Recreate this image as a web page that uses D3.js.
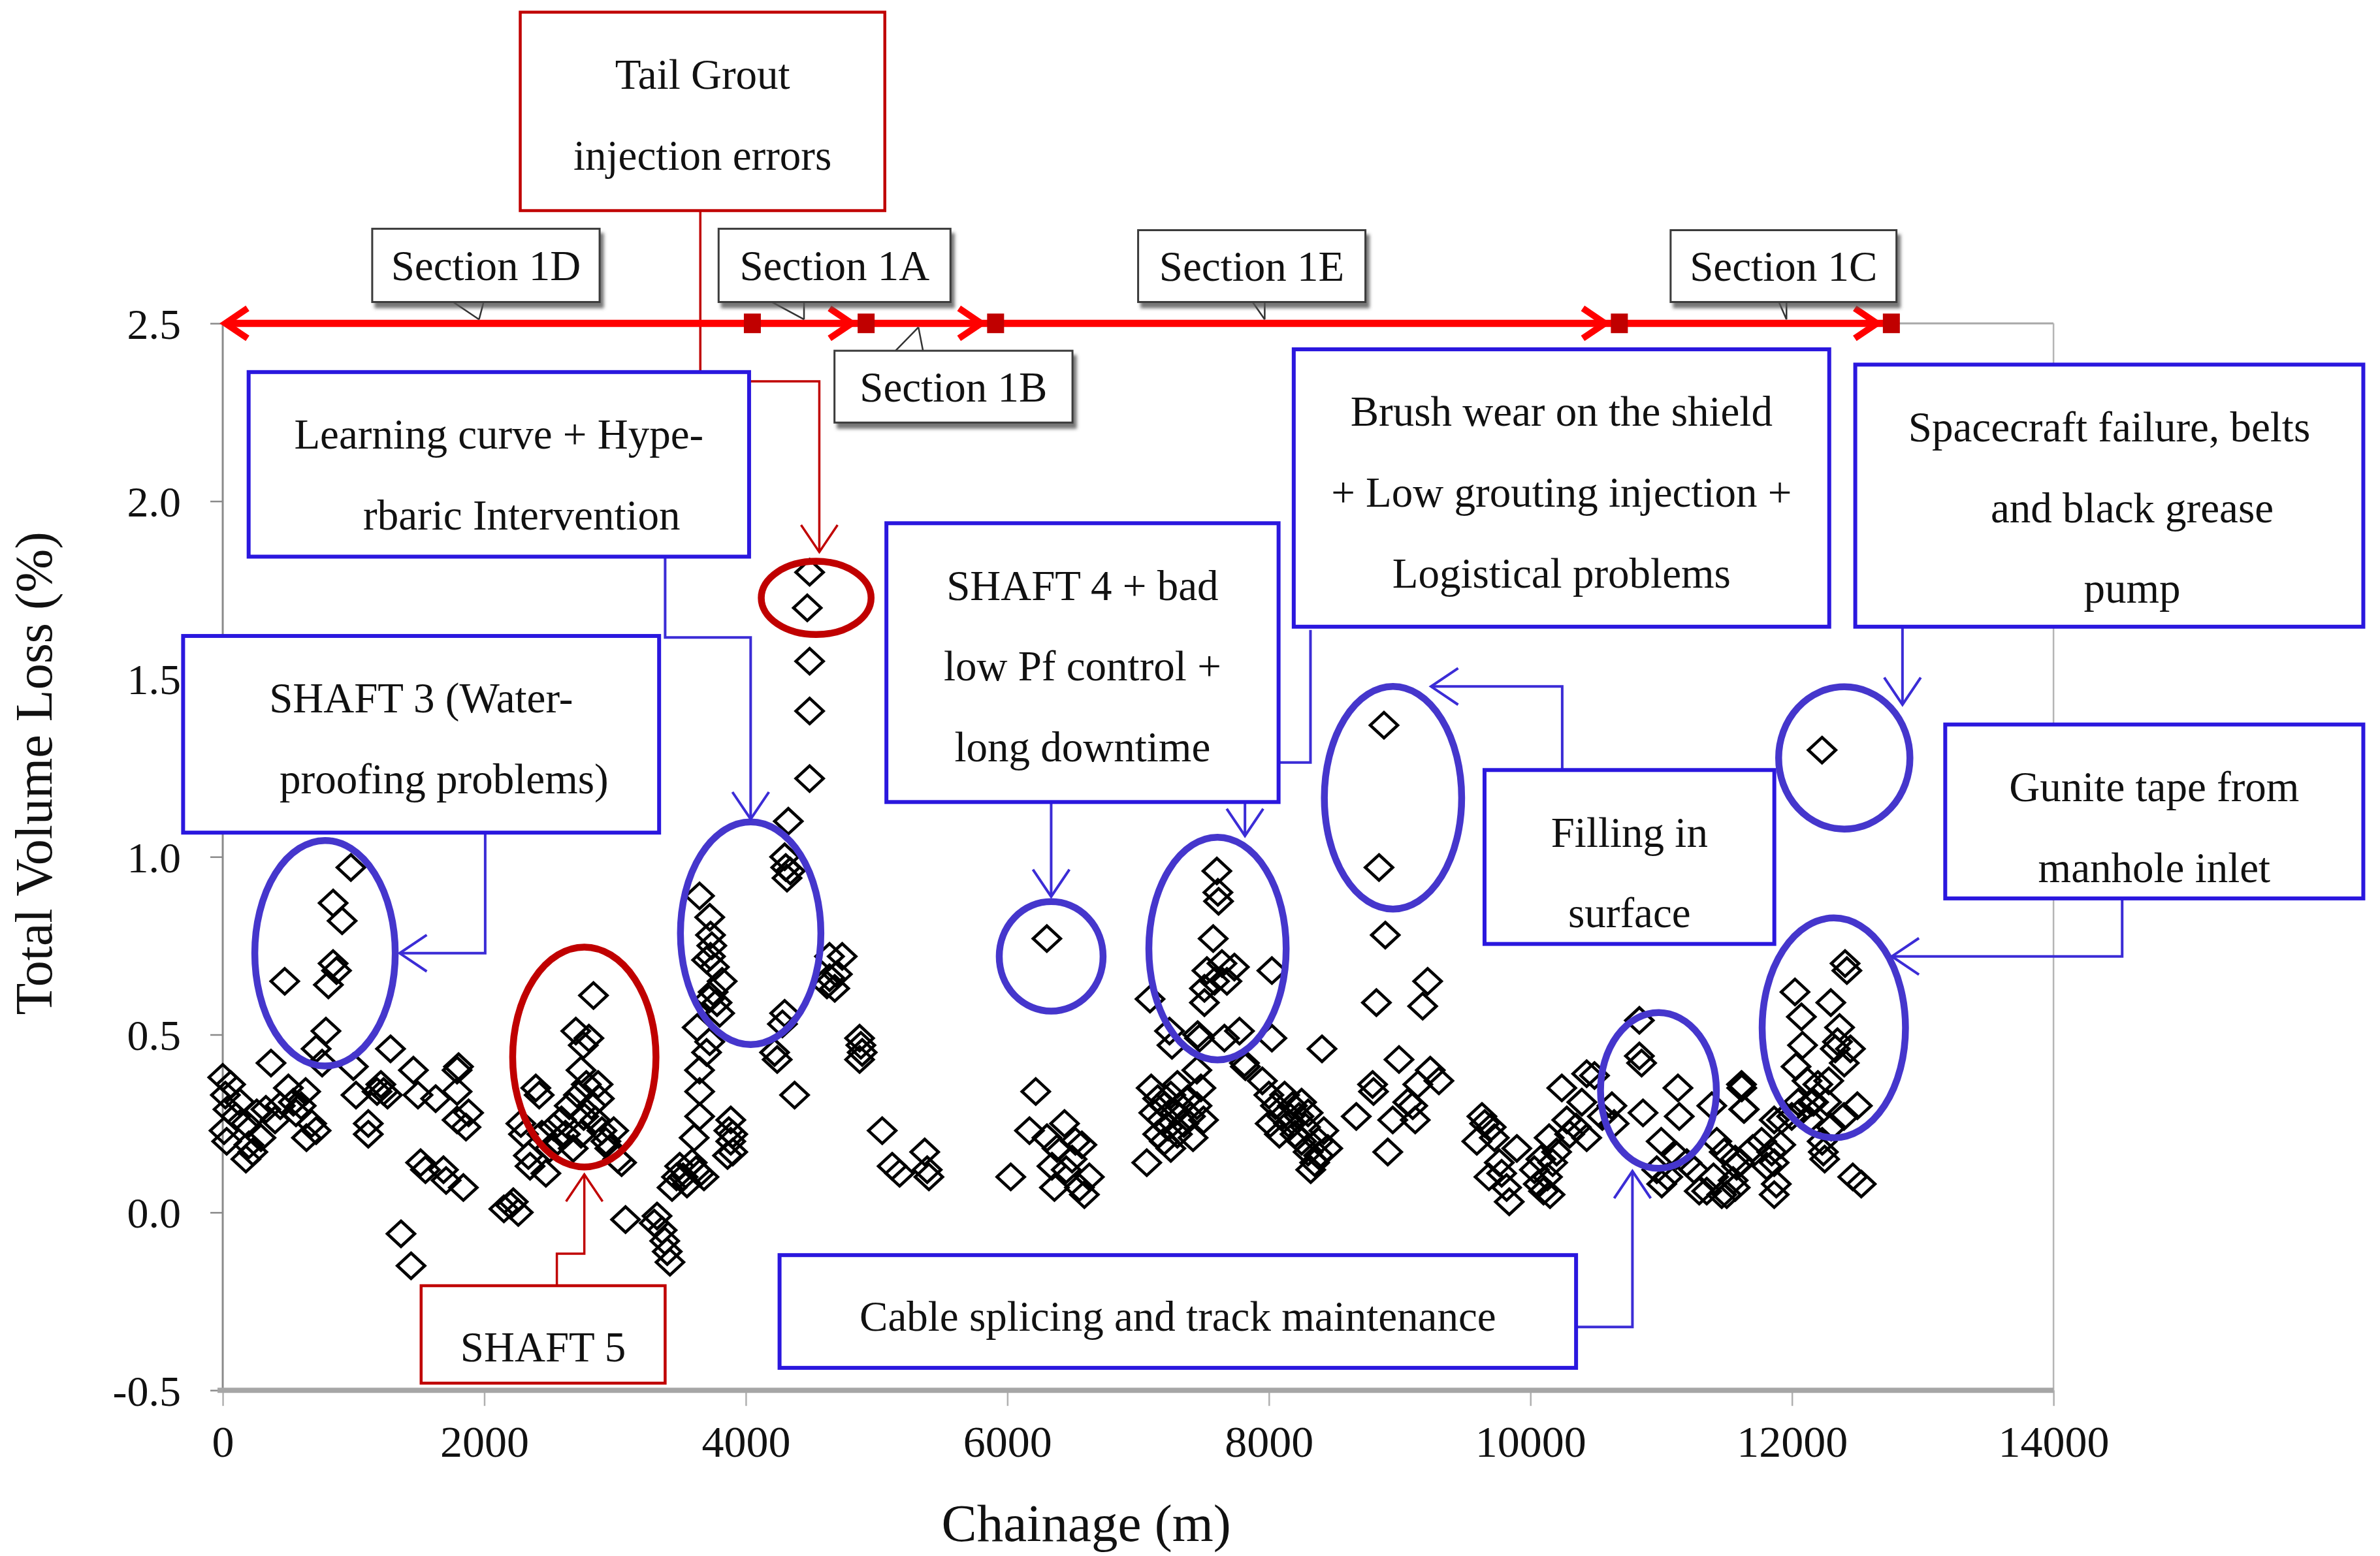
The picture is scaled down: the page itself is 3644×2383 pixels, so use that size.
<!DOCTYPE html>
<html><head><meta charset="utf-8">
<script src="https://cdn.jsdelivr.net/npm/d3@7"></script>
<style>html,body{margin:0;padding:0;background:#fff;} svg{display:block;}</style>
</head><body>
<svg id="chart" width="3644" height="2383"></svg>
<script>
// ---------------- DATA ----------------
// [chainage (m), total volume loss (%)]
const readings = [
[0,0.38],[20,0.33],[40,0.29],[10,0.23],[60,0.36],[30,0.20],[100,0.27],[130,0.31],[177,0.25],[177,0.15],[200,0.19],[230,0.17],[260,0.28],[292,0.21],[330,0.29],[369,0.42],[400,0.26],[440,0.30],[474,0.65],[502,0.35],[540,0.31],[560,0.28],[600,0.30],[634,0.34],[640,0.21],[680,0.25],[714,0.46],[714,0.23],[760,0.42],[789,0.51],[808,0.64],[844,0.70],[844,0.87],[870,0.68],[913,0.82],[980,0.97],[999,0.41],[1019,0.33],[1113,0.25],[1113,0.22],[1180,0.34],[1209,0.36],[1230,0.34],[1260,0.33],[1283,0.46],[1363,-0.06],[1440,-0.15],[1458,0.40],[1493,0.33],[1513,0.14],[1550,0.12],[1628,0.32],[1688,0.12],[1708,0.09],[1792,0.40],[1792,0.34],[1792,0.26],[1803,0.41],[1840,0.07],[1860,0.24],[1880,0.28],
[2150,0.01],[2200,0.02],[2222,0.03],[2260,0.00],[2280,0.25],[2300,0.22],[2337,0.16],[2350,0.13],[2394,0.35],[2420,0.33],[2440,0.22],[2471,0.11],[2500,0.18],[2530,0.24],[2560,0.20],[2590,0.26],[2620,0.22],[2650,0.30],[2680,0.18],[2700,0.51],[2720,0.33],[2740,0.40],[2757,0.47],[2780,0.36],[2800,0.49],[2835,0.61],[2820,0.30],[2850,0.26],[2870,0.36],[2900,0.23],[2930,0.20],[2960,0.18],[2990,0.23],[3020,0.15],[3050,0.14],[3080,-0.02],[2760,0.27],[2740,0.22],[2880,0.32],
[3300,-0.03],[3321,-0.01],[3360,-0.05],[3399,-0.11],[3420,-0.14],[3380,-0.08],[3436,0.07],[3470,0.10],[3494,0.13],[3520,0.10],[3550,0.08],[3590,0.14],[3620,0.12],[3646,0.11],[3680,0.10],[3605,0.21],[3646,0.40],[3628,0.52],[3647,0.34],[3647,0.27],[3646,0.89],[3724,0.83],[3730,0.78],[3740,0.75],[3730,0.72],[3760,0.69],[3700,0.71],[3750,0.62],[3720,0.60],[3819,0.65],[3780,0.59],[3800,0.56],[3724,0.48],[3700,0.45],[3885,0.26],[3885,0.20],[3870,0.23],[3900,0.17],[3860,0.16],[3900,0.22],
[4297,1.00],[4305,0.97],[4315,0.94],[4325,1.10],[4340,0.96],[4470,1.70],[4488,1.80],[4488,1.55],[4488,1.41],[4488,1.22],[4297,0.56],[4280,0.53],[4220,0.45],[4240,0.43],[4373,0.33],[4620,0.64],[4640,0.72],[4640,0.66],[4680,0.63],[4700,0.67],[4737,0.72],[4870,0.49],[4880,0.47],[4870,0.43],[4890,0.45],[5043,0.23],[5119,0.13],[5176,0.11],[5368,0.17],[5387,0.12],[5400,0.10],
[6026,0.10],[6169,0.23],[6217,0.34],[6302,0.77],[6303,0.21],[6341,0.13],[6360,0.07],[6380,0.18],[6437,0.25],[6450,0.12],[6495,0.15],[6520,0.20],[6551,0.07],[6570,0.19],[6589,0.05],[6627,0.10],
[7066,0.14],[7091,0.60],[7240,0.51],[7259,0.47],[7100,0.35],[7150,0.32],[7200,0.30],[7250,0.33],[7300,0.36],[7120,0.28],[7180,0.26],[7230,0.24],[7280,0.28],[7320,0.30],[7350,0.25],[7150,0.22],[7200,0.20],[7250,0.18],[7300,0.22],[7400,0.27],[7450,0.30],[7500,0.26],[7380,0.32],[7420,0.21],[7480,0.35],[7449,0.40],[7455,0.50],[7469,0.49],[7507,0.63],[7507,0.59],[7526,0.68],[7574,0.77],[7584,0.65],[7602,0.96],[7610,0.90],[7615,0.875],[7641,0.70],[7660,0.49],[7679,0.65],[7736,0.69],[7775,0.51],[7813,0.42],[7820,0.41],[8023,0.68],[8023,0.49],[8406,0.46],
[7950,0.37],[8000,0.33],[8050,0.30],[8100,0.27],[8150,0.25],[8200,0.22],[8250,0.20],[8300,0.17],[8350,0.14],[8320,0.12],[8280,0.24],[8230,0.27],[8180,0.30],[8120,0.33],[8080,0.22],[8380,0.20],[8420,0.23],[8450,0.18],[8380,0.16],[8300,0.28],[8250,0.31],[8010,0.25],
[8668,0.27],[8793,0.36],[8800,0.34],[8822,0.59],[8842,0.97],[8880,1.37],[8890,0.78],[8909,0.17],[8947,0.26],[8995,0.43],[9062,0.31],[9100,0.30],[9119,0.26],[9139,0.36],[9176,0.58],[9214,0.65],[9234,0.40],[9300,0.37],
[9590,0.20],[9629,0.27],[9650,0.25],[9683,0.10],[9700,0.24],[9724,0.21],[9762,0.14],[9780,0.11],[9818,0.07],[9838,0.03],[9896,0.18],[10030,0.12],[10060,0.08],[10080,0.15],[10100,0.06],[10130,0.10],[10150,0.05],[10170,0.14],[10200,0.17],[10143,0.21],[10240,0.35],[10278,0.26],[10300,0.22],[10350,0.24],[10393,0.31],[10430,0.39],[10430,0.21],[10490,0.385],[10550,0.27],[10623,0.30],[10640,0.25],
[10833,0.54],[10833,0.44],[10850,0.42],[10861,0.28],[10966,0.12],[11000,0.20],[11004,0.08],[11050,0.10],[11118,0.16],[11128,0.35],[11138,0.27],[11196,0.14],[11250,0.12],[11291,0.06],[11348,0.06],[11387,0.30],[11400,0.10],[11425,0.20],[11463,0.05],[11482,0.17],[11501,0.05],[11550,0.09],[11577,0.13],[11597,0.14],[11616,0.35],[11635,0.29],[11700,0.18],[11768,0.20],[11807,0.13],[11845,0.17],[11864,0.05],[11921,0.26],[12056,0.28],[12151,0.31],
[11566,0.15],[11566,0.07],[11614,0.36],[11631,0.29],[11864,0.26],[11914,0.19],[11864,0.14],[11880,0.08],[11998,0.27],[12023,0.62],[12031,0.41],[12048,0.31],[12072,0.55],[12081,0.47],[12115,0.37],[12131,0.26],[12165,0.31],[12198,0.36],[12230,1.30],[12231,0.20],[12240,0.17],[12250,0.15],[12265,0.31],[12281,0.37],[12297,0.59],[12300,0.24],[12331,0.46],[12348,0.48],[12364,0.52],[12398,0.27],[12400,0.42],[12406,0.70],[12420,0.68],[12447,0.46],[12465,0.10],[12500,0.30],[12530,0.08]
];

const xTicks = [0, 2000, 4000, 6000, 8000, 10000, 12000, 14000];
const yTicks = [-0.5, 0.0, 0.5, 1.0, 1.5, 2.0, 2.5];
const xTitle = "Chainage (m)";
const yTitle = "Total Volume Loss (%)";

// tunnel section boundaries along the top (chainage, m)
const sectionBounds = [0, 4050, 4920, 5910, 10680, 12760];
const sectionArrowAt = [4920, 5910, 10680, 12760];
const sectionLabels = [
  {text:"Section 1D", x0:1143, x1:2882, yTop:2.766, yBot:2.560, tail:[1762,1995,1960], below:false},
  {text:"Section 1A", x0:3792, x1:5565, yTop:2.766, yBot:2.560, tail:[4200,4445,4445], below:false},
  {text:"Section 1B", x0:4678, x1:6498, yTop:2.423, yBot:2.221, tail:[5145,5355,5320], below:true},
  {text:"Section 1E", x0:7000, x1:8738, yTop:2.762, yBot:2.560, tail:[7875,7968,7968], below:false},
  {text:"Section 1C", x0:11072, x1:12799, yTop:2.762, yBot:2.560, tail:[11900,11958,11958], below:false}
];

// annotation boxes (extent in data units)
const notes = [
  {lines:["Tail Grout","injection errors"], x0:2275, x1:5063, yTop:3.375, yBot:2.817, tone:"red", dx:[0,0]},
  {lines:["Learning curve + Hype-","rbaric Intervention"], x0:198, x1:4025, yTop:2.363, yBot:1.844, tone:"blue", dx:[0,15]},
  {lines:["SHAFT 3 (Water-","proofing problems)"], x0:-303, x1:3337, yTop:1.621, yBot:1.068, tone:"blue", dx:[0,15]},
  {lines:["SHAFT 4 + bad","low Pf control +","long downtime"], x0:5075, x1:8074, yTop:1.938, yBot:1.154, tone:"blue", dx:[0,0,0]},
  {lines:["Brush wear on the shield","+ Low grouting injection +","Logistical problems"], x0:8190, x1:12285, yTop:2.427, yBot:1.647, tone:"blue", dx:[0,0,0]},
  {lines:["Spacecraft failure, belts","and black grease","pump"], x0:12484, x1:16369, yTop:2.384, yBot:1.647, tone:"blue", dx:[0,15,15]},
  {lines:["Filling in","surface"], x0:9649, x1:11865, yTop:1.244, yBot:0.755, tone:"blue", dx:[0,0]},
  {lines:["Gunite tape from","manhole inlet"], x0:13172, x1:16369, yTop:1.372, yBot:0.883, tone:"blue", dx:[0,0]},
  {lines:["Cable splicing and track maintenance"], x0:4258, x1:10349, yTop:-0.12, yBot:-0.437, tone:"blue", dx:[0]},
  {lines:["SHAFT 5"], x0:1517, x1:3383, yTop:-0.206, yBot:-0.48, tone:"red", dx:[0]}
];

// highlighted clusters (ellipses, data units)
const rings = [
  {cx:782,   cy:0.729, rx:537, ry:0.317, tone:"blue"},
  {cx:4037,  cy:0.785, rx:537, ry:0.313, tone:"blue"},
  {cx:6335,  cy:0.720, rx:397, ry:0.154, tone:"blue"},
  {cx:7607,  cy:0.742, rx:525, ry:0.313, tone:"blue"},
  {cx:8949,  cy:1.166, rx:525, ry:0.313, tone:"blue"},
  {cx:12400, cy:1.278, rx:502, ry:0.200, tone:"blue"},
  {cx:10979, cy:0.343, rx:443, ry:0.219, tone:"blue"},
  {cx:12320, cy:0.519, rx:548, ry:0.309, tone:"blue"},
  {cx:2765,  cy:0.437, rx:548, ry:0.309, tone:"red"},
  {cx:4538,  cy:1.728, rx:420, ry:0.103, tone:"red"}
];

// leader lines (data units); arrow = arrowhead at last point
const leaders = [
  {pts:[[2007,1.068],[2007,0.729],[1353,0.729]], tone:"blue", arrow:true},
  {pts:[[3383,1.844],[3383,1.617],[4037,1.617],[4037,1.106]], tone:"blue", arrow:true},
  {pts:[[3652,2.817],[3652,2.363]], tone:"red", arrow:false},
  {pts:[[4025,2.337],[4562,2.337],[4562,1.857]], tone:"red", arrow:true},
  {pts:[[6335,1.154],[6335,0.888]], tone:"blue", arrow:true},
  {pts:[[8318,1.638],[8318,1.265],[7817,1.265],[7817,1.059]], tone:"blue", arrow:true},
  {pts:[[10243,1.244],[10243,1.479],[9240,1.479]], tone:"blue", arrow:true},
  {pts:[[12845,1.647],[12845,1.428]], tone:"blue", arrow:true},
  {pts:[[14525,0.883],[14525,0.720],[12764,0.720]], tone:"blue", arrow:true},
  {pts:[[10349,-0.322],[10780,-0.322],[10780,0.116]], tone:"blue", arrow:true},
  {pts:[[2555,-0.206],[2555,-0.116],[2765,-0.116],[2765,0.107]], tone:"red", arrow:true}
];

// ---------------- DRAWING ----------------
const W = 3644, H = 2383, k = W / 1560;
const FONT = "'Liberation Serif','DejaVu Serif',serif";
const svg = d3.select("#chart");
const x = d3.scaleLinear().domain([0, 14000]).range([146*k, 1346*k]);
const y = d3.scaleLinear().domain([-0.5, 2.5]).range([911.5*k, 212*k]);
const tones = {
  blue:{box:"#2A17DE", ring:"#4536CC", line:"#3B2CD6"},
  red:{box:"#C00000", ring:"#C00000", line:"#C00000"}
};

const defs = svg.append("defs");
const sh = defs.append("filter").attr("id","shadow")
  .attr("x","-10%").attr("y","-20%").attr("width","130%").attr("height","160%");
sh.append("feDropShadow").attr("dx",5).attr("dy",8).attr("stdDeviation",2.5)
  .attr("flood-color","#555").attr("flood-opacity",0.8);

svg.append("rect").attr("width",W).attr("height",H).attr("fill","#fff");

// frame
svg.append("line").attr("x1",x(0)).attr("x2",x(14000)).attr("y1",y(2.5)).attr("y2",y(2.5))
  .attr("stroke","#A8A8A8").attr("stroke-width",3);
svg.append("line").attr("x1",x(14000)).attr("x2",x(14000)).attr("y1",y(2.5)).attr("y2",y(-0.5))
  .attr("stroke","#B5B5B5").attr("stroke-width",2.5);

// axes
const xAxis = svg.append("g").attr("transform",`translate(0,${y(-0.5)})`)
  .call(d3.axisBottom(x).tickValues(xTicks).tickSize(24).tickFormat(d3.format("d")));
xAxis.select(".domain").remove();
xAxis.selectAll(".tick line").attr("stroke","#B0B0B0").attr("stroke-width",2.5);
xAxis.selectAll(".tick text").attr("y",78).attr("dy","0.35em")
  .attr("font-family",FONT).attr("font-size",68).attr("fill","#111");

const fmtY = v => d3.format(".1f")(v).replace("\u2212", "-");
const yAxis = svg.append("g").attr("transform",`translate(${x(0)},0)`)
  .call(d3.axisLeft(y).tickValues(yTicks).tickSize(19).tickFormat(fmtY));
yAxis.select(".domain").remove();
yAxis.selectAll(".tick line").attr("stroke","#8A8A8A").attr("stroke-width",2.5);
yAxis.selectAll(".tick text").attr("x",-64).attr("dy","0.35em")
  .attr("font-family",FONT).attr("font-size",66).attr("fill","#111");

svg.append("line").attr("x1",x(0)).attr("x2",x(0)).attr("y1",y(2.5)).attr("y2",y(-0.5))
  .attr("stroke","#8A8A8A").attr("stroke-width",3);
svg.append("line").attr("x1",x(0)-8).attr("x2",x(14000)).attr("y1",y(-0.5)).attr("y2",y(-0.5))
  .attr("stroke","#A6A6A6").attr("stroke-width",8);

// axis titles
svg.append("text").attr("x",712*k).attr("y",998*k).attr("dy","0.35em")
  .attr("text-anchor","middle").attr("font-family",FONT).attr("font-size",81).attr("fill","#111")
  .text(xTitle);
svg.append("text").attr("transform",`translate(${22*k},${507*k}) rotate(-90)`).attr("dy","0.35em")
  .attr("text-anchor","middle").attr("font-family",FONT).attr("font-size",80).attr("fill","#111")
  .text(yTitle);

// data points (open diamonds)
const dw = 21, dh = 19.5;
svg.append("g").selectAll("path").data(readings).join("path")
  .attr("transform", d => `translate(${x(d[0])},${y(d[1])})`)
  .attr("d", `M0,${-dh}L${dw},0L0,${dh}L${-dw},0Z`)
  .attr("fill","none").attr("stroke","#000").attr("stroke-width",4.6);

// ellipses
svg.append("g").selectAll("ellipse").data(rings).join("ellipse")
  .attr("cx", d => x(d.cx)).attr("cy", d => y(d.cy))
  .attr("rx", d => x(d.rx) - x(0)).attr("ry", d => y(0) - y(d.ry))
  .attr("fill","none").attr("stroke", d => tones[d.tone].ring).attr("stroke-width",10.5);

// leaders
const lineGen = d3.line().x(d => x(d[0])).y(d => y(d[1]));
const lg = svg.append("g");
leaders.forEach(L => {
  const c = tones[L.tone].line;
  const sw = L.tone === "red" ? 3.5 : 4;
  lg.append("path").attr("d", lineGen(L.pts)).attr("fill","none").attr("stroke",c).attr("stroke-width",sw);
  if (L.arrow) {
    const n = L.pts.length;
    const tx = x(L.pts[n-1][0]), ty = y(L.pts[n-1][1]);
    const px = x(L.pts[n-2][0]), py = y(L.pts[n-2][1]);
    const ang = Math.atan2(ty - py, tx - px);
    const len = 50, spread = 34 * Math.PI / 180;
    const a1 = ang + Math.PI - spread, a2 = ang + Math.PI + spread;
    lg.append("path")
      .attr("d", `M${tx + len*Math.cos(a1)},${ty + len*Math.sin(a1)}L${tx},${ty}L${tx + len*Math.cos(a2)},${ty + len*Math.sin(a2)}`)
      .attr("fill","none").attr("stroke",c).attr("stroke-width",sw);
  }
});

// annotation boxes
const ng = svg.append("g");
notes.forEach(N => {
  const bx = x(N.x0), by = y(N.yTop), bw = x(N.x1) - x(N.x0), bh = y(N.yBot) - y(N.yTop);
  ng.append("rect").attr("x",bx).attr("y",by).attr("width",bw).attr("height",bh)
    .attr("fill","#fff").attr("stroke",tones[N.tone].box).attr("stroke-width",N.tone==="red"?4.5:6);
  const cx = bx + bw/2;
  N.lines.forEach((t, i) => {
    let ty;
    if (N.lines.length === 1) ty = by + bh/2 + (N.tone === "red" ? 8*k : 3*k);
    else ty = by + (40.5 + i*53) * k;
    ng.append("text").attr("x", cx + N.dx[i]*k).attr("y", ty).attr("dy","0.35em")
      .attr("text-anchor","middle").attr("font-family",FONT).attr("font-size",65).attr("fill","#111")
      .text(t);
  });
});

// section line along the top
const sy = y(2.5);
const sg = svg.append("g");
sg.append("line").attr("x1",x(0)+4).attr("x2",x(sectionBounds[sectionBounds.length-1])-10)
  .attr("y1",sy).attr("y2",sy).attr("stroke","#FF0000").attr("stroke-width",11);
sg.append("path").attr("d",`M${x(0)+38},${sy-23}L${x(0)+4},${sy}L${x(0)+38},${sy+23}`)
  .attr("fill","none").attr("stroke","#FF0000").attr("stroke-width",10);
sectionArrowAt.forEach(b => {
  const tip = x(b) - 22;
  sg.append("path").attr("d",`M${tip-34},${sy-23}L${tip},${sy}L${tip-34},${sy+23}`)
    .attr("fill","none").attr("stroke","#FF0000").attr("stroke-width",10);
});
sg.selectAll("rect.mk").data(sectionBounds.slice(1)).join("rect").attr("class","mk")
  .attr("x", d => x(d) - 13).attr("y", sy - 15).attr("width",26).attr("height",30)
  .attr("fill","#C00000");

// section label callouts
const lab = svg.append("g");
sectionLabels.forEach(S => {
  const bx = x(S.x0), by = y(S.yTop), bw = x(S.x1) - x(S.x0), bh = y(S.yBot) - y(S.yTop);
  const baseY = S.below ? by : by + bh;
  const tipY = y(2.5) - (S.below ? -6 : 6);
  lab.append("path")
    .attr("d",`M${x(S.tail[0])},${baseY}L${x(S.tail[2])},${tipY}M${x(S.tail[1])},${baseY}L${x(S.tail[2])},${tipY}`)
    .attr("fill","none").attr("stroke","#333").attr("stroke-width",2.5);
  lab.append("rect").attr("x",bx).attr("y",by).attr("width",bw).attr("height",bh)
    .attr("fill","#fff").attr("stroke","#3a3a3a").attr("stroke-width",3).attr("filter","url(#shadow)");
  lab.append("text").attr("x",bx + bw/2).attr("y",by + bh/2).attr("dy","0.35em")
    .attr("text-anchor","middle").attr("font-family",FONT).attr("font-size",65).attr("fill","#111")
    .text(S.text);
});
</script>
</body></html>
